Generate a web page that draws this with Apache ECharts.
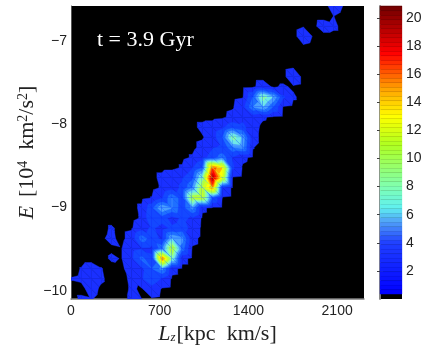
<!DOCTYPE html>
<html><head><meta charset="utf-8">
<style>html,body{margin:0;padding:0;background:#fff}#c{width:436px;height:346px}</style>
<script src="https://cdn.jsdelivr.net/npm/echarts@6/dist/echarts.min.js"></script>
</head><body><div id="c"></div>
<script>
const xRange=[0,2312], yRange=[-10.1,-6.58], cols=30, nRows=30;
const xTicks=[0,700,1400,2100], yTicks=[-10,-9,-8,-7];
// density: [row (from top), first column, values...]
const densitySegments=[
[0,26,.8,.3],[1,26,.36,.1],
[2,23,.3,.1,.9,.6],[3,23,1.0,.25],[4,23,.2],
[6,22,.2],[7,22,1.3],
[8,18,.1,1,.2,.5,.2],
[9,17,.2,4,9.5,7,2.5,.5],
[10,16,.2,1.5,5.5,7,4,.2],
[11,15,.1,.8,1.5,1,.5,.1],
[12,13,.7,1,1.8,3.5,2.8,.8,.1],
[13,13,.2,1.2,4,9.5,6.5,.8],
[14,13,.8,2,2.5,5.5,6,.4],
[15,12,.5,1.5,3,5,2,.6,.1],
[16,11,.5,2,4,17,14.5,2.5,.2],
[17,9,.7,1.5,2,3.5,9,20.5,13,.2],
[18,9,.5,1.5,2.5,5.5,11.5,16,2],
[19,8,.4,2,5.5,3,11.5,12,4,.2],
[20,7,.6,3.5,7,5.5,3,6,.6],
[21,7,.5,4,3,1.5,2.5,2,.1],
[22,4,.5],[22,6,.2,1.5,2.5,1.5,2.5,3,1.6],
[23,3,.2,.6],[23,6,1,5,3,1.8,7,6,.8],
[24,4,.2,.3,1.5,2,1.8,5,12,5,.2],
[25,4,.5,.3,1.8,4.5,2.5,17,9,.8],
[26,1,.4,.9,.4],[26,5,.1,1,1.8,4,6,.8],
[27,0,.4,.5,.9,.5],[27,6,.6,2,3.5,2,.1],
[28,0,.1,.1,.7,.2],[28,6,.5,.2,1.5,.2],
[29,1,.5,.4,.1],[29,6,.6,.35,.2]
];
const levels=[.35,2.2,4,5.5,7,8.5,10,11.5,13,14.5,16,17.5,19,20.2];
const levelColors=['#1a30ff','#1448ff','#1f70ff','#4aa0ff','#6fe8e8','#90ffa0','#b0ff40','#d0ff20','#ffff00','#ffb000','#ff5000','#ff0000','#c00000','#800000'];
const barAnchors=[[.35,[0,0,255]],[4,[32,64,255]],[5.5,[80,160,248]],[6.5,[96,240,240]],[8,[128,255,176]],[11,[176,255,32]],[13,[255,255,0]],[15,[255,160,0]],[17.5,[255,0,0]],[20.85,[112,0,0]]];
const barMax=20.85, barTicks=[2,4,6,8,10,12,14,16,18,20];

const grid=Array.from({length:nRows},()=>new Array(cols).fill(0));
densitySegments.forEach(([r,c,...v])=>v.forEach((x,k)=>{grid[r][c+k]=x;}));
const nodeX=i=>xRange[0]+i*(xRange[1]-xRange[0])/(cols-1);
const nodeY=j=>yRange[1]-j*(yRange[1]-yRange[0])/(nRows-1);
const cells=[];
for(let j=0;j<nRows-1;j++)for(let i=0;i<cols-1;i++){
  if(Math.max(grid[j][i],grid[j][i+1],grid[j+1][i],grid[j+1][i+1])>=levels[0])cells.push([nodeX(i),nodeY(j),i,j]);
}
function clip(tri,L){
  const out=[];
  for(let k=0;k<tri.length;k++){
    const a=tri[k],b=tri[(k+1)%tri.length];
    if(a[2]>=L)out.push(a);
    if((a[2]>=L)!==(b[2]>=L)){const t=(L-a[2])/(b[2]-a[2]);out.push([a[0]+t*(b[0]-a[0]),a[1]+t*(b[1]-a[1]),L]);}
  }
  return out;
}
function renderCell(params,api){
  const i=api.value(2),j=api.value(3);
  const p=(a,b)=>{const c=api.coord([nodeX(a),nodeY(b)]);return [c[0],c[1],grid[b][a]];};
  const A=p(i,j),B=p(i+1,j),C=p(i+1,j+1),D=p(i,j+1);
  const children=[];
  [[A,B,C],[A,C,D]].forEach(tri=>{
    levels.forEach((L,n)=>{
      const poly=clip(tri,L);
      if(poly.length>2)children.push({type:'polygon',shape:{points:poly.map(q=>[q[0],q[1]])},style:{fill:levelColors[n],stroke:levelColors[n],lineWidth:.4}});
    });
  });
  return {type:'group',children};
}
function barColor(v){
  for(let k=0;k<barAnchors.length-1;k++){
    const [a,ca]=barAnchors[k],[b,cb]=barAnchors[k+1];
    if(v<=b){const t=Math.max(0,(v-a)/(b-a));return 'rgb('+ca.map((c,n)=>Math.round(c+t*(cb[n]-c))).join(',')+')';}
  }
  return '#700000';
}
const barBands=[];
for(let k=0;.35+k*.32<barMax;k++)barBands.push([.35+k*.32,Math.min(barMax,.35+(k+1)*.32)]);
const labelStyle={color:'#222',fontFamily:'Liberation Sans',fontSize:14};
const grey={lineStyle:{color:'#808080',width:1.5}};
const minus=v=>String(v).replace('-','\u2212');
const serif='Liberation Serif';
const chart=echarts.init(document.getElementById('c'),null,{renderer:'canvas'});
chart.setOption({
 animation:false,
 grid:[
  {left:71,top:6,width:293,height:293,show:true,backgroundColor:'#000',borderWidth:0,outerBoundsMode:'none'},
  {left:380,top:6,width:22,height:293,show:true,backgroundColor:'#000',borderWidth:0,outerBoundsMode:'none'}
 ],
 xAxis:[
  {gridIndex:0,type:'value',min:xRange[0],max:xRange[1],interval:700,splitLine:{show:false},
   axisLine:{show:true,...grey,onZero:false},axisTick:{show:false},
   axisLabel:{...labelStyle,margin:5,customValues:xTicks,formatter:v=>String(v)},
   name:'{i|L}{sub|z}{n|[kpc  km/s]}',nameLocation:'middle',nameGap:17,
   nameTextStyle:{rich:{i:{fontFamily:serif,fontStyle:'italic',fontSize:22,color:'#222'},sub:{fontFamily:serif,fontStyle:'italic',fontSize:13,color:'#222',padding:[8,1,0,0]},n:{fontFamily:serif,fontSize:22,color:'#222'}}}},
  {gridIndex:1,type:'value',min:0,max:1,show:false}
 ],
 yAxis:[
  {gridIndex:0,type:'value',min:yRange[0],max:yRange[1],splitLine:{show:false},
   axisLine:{show:true,lineStyle:{color:'#555',width:1},onZero:false},axisTick:{show:false},
   axisLabel:{...labelStyle,margin:4,customValues:yTicks,formatter:minus},
   name:'{i|E} {n| [10}{s|4}{n|  km}{s|2}{n|/s}{s|2}{n|]}',nameLocation:'middle',nameRotate:90,nameGap:32,nameMoveOverlap:false,
   nameTextStyle:{rich:{i:{fontFamily:serif,fontStyle:'italic',fontSize:22,color:'#222'},n:{fontFamily:serif,fontSize:22,color:'#222'},s:{fontFamily:serif,fontSize:14,color:'#222',padding:[0,0,9,0]}}}},
  {gridIndex:1,type:'value',min:0,max:barMax,position:'right',splitLine:{show:false},
   axisLine:{show:true,...grey},axisTick:{show:true,inside:true,length:3,customValues:barTicks,lineStyle:{color:'#404040'}},
   axisLabel:{...labelStyle,margin:4,customValues:barTicks}},
  {gridIndex:1,type:'value',min:0,max:barMax,position:'left',splitLine:{show:false},
   axisLine:{show:true,...grey},axisTick:{show:true,inside:true,length:3,customValues:barTicks,lineStyle:{color:'#404040'}},
   axisLabel:{show:false}}
 ],
 series:[
  {type:'custom',coordinateSystem:'cartesian2d',xAxisIndex:0,yAxisIndex:0,silent:true,clip:true,encode:{x:0,y:1},data:cells,renderItem:renderCell},
  {type:'custom',coordinateSystem:'cartesian2d',xAxisIndex:1,yAxisIndex:1,silent:true,encode:{y:[0,1]},data:barBands,
   renderItem(params,api){
    const lo=api.value(0),hi=api.value(1);
    const a=api.coord([0,hi]),b=api.coord([1,lo]);
    const col=barColor((lo+hi)/2);
    return {type:'rect',shape:{x:a[0],y:a[1],width:b[0]-a[0],height:b[1]-a[1]},style:{fill:col,stroke:col,lineWidth:.3}};
   }}
 ],
 graphic:[{type:'text',left:97,top:29,z:50,silent:true,style:{text:'t = 3.9 Gyr',fill:'#fff',font:'22px "Liberation Serif"'}}]
});
</script></body></html>
